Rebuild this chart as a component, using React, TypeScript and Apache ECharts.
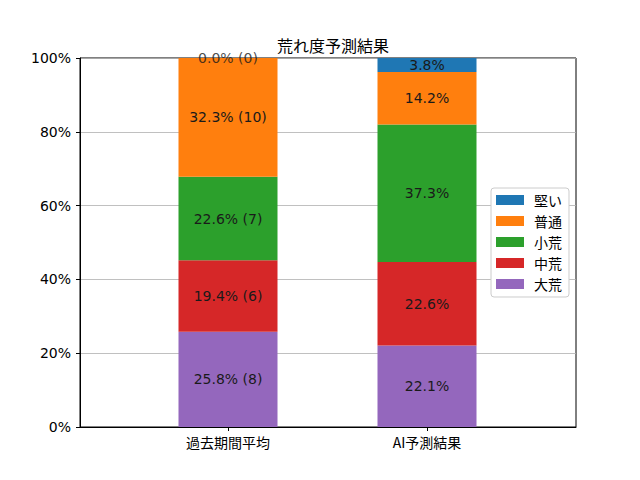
import React, { useEffect, useRef } from "react";
import * as echarts from "echarts";

const categories = ["過去期間平均", "AI予測結果"];
const seriesNames = ["大荒", "中荒", "小荒", "普通", "堅い"];
const legendOrder = ["堅い", "普通", "小荒", "中荒", "大荒"];
const colors = ["#9467bd", "#d62728", "#2ca02c", "#ff7f0e", "#1f77b4"];
const pastPct = [25.8, 19.4, 22.6, 32.3, 0.0];
const pastCount = [8, 6, 7, 10, 0];
const aiPct = [22.1, 22.6, 37.3, 14.2, 3.8];
const yTicks = [0, 20, 40, 60, 80, 100];

const FONT = "DejaVu Sans";
const CJK = "Noto Sans CJK JP";

const labelText = (catIdx: number, segIdx: number, v: number) =>
  catIdx === 0 ? `${v.toFixed(1)}% (${pastCount[segIdx]})` : `${v.toFixed(1)}%`;

export default function App() {
  const ref = useRef<HTMLDivElement>(null);
  useEffect(() => {
    if (!ref.current) return;
    const chart = echarts.init(ref.current, null, { renderer: "svg" });
    const byCat = [pastPct, aiPct];
    const labelStyle = {
      color: "#1a1a1a",
      fontFamily: FONT,
      fontSize: 14,
    };
    const series: any[] = seriesNames.map((name, i) => ({
      name,
      type: "bar",
      stack: "total",
      barWidth: 99,
      xAxisIndex: 1,
      yAxisIndex: 1,
      z: 3,
      itemStyle: { color: colors[i] },
      label: {
        show: true,
        position: "inside",
        ...labelStyle,
        formatter: (p: any) => labelText(p.dataIndex, i, p.value as number),
      },
      data: [pastPct[i], aiPct[i]],
    }));
    // labels for zero-height segments, placed at their stack position
    const zeroPts: any[] = [];
    byCat.forEach((vals, c) => {
      let cum = 0;
      vals.forEach((v, s) => {
        if (v === 0) zeroPts.push({ value: [c, Math.min(cum, 100)], seg: s, cat: c });
        cum += v;
      });
    });
    series.push({
      type: "scatter",
      xAxisIndex: 1,
      yAxisIndex: 1,
      symbolSize: 0,
      silent: true,
      z: 5,
      label: {
        show: true,
        position: "inside",
        ...labelStyle,
        formatter: (p: any) => labelText(p.data.cat, p.data.seg, 0),
      },
      data: zeroPts,
    });
    chart.setOption({
      animation: false,
      backgroundColor: "#fff",
      title: {
        text: "荒れ度予測結果",
        left: 328,
        top: 32,
        textAlign: "center",
        textStyle: { fontFamily: CJK, fontSize: 16, fontWeight: "normal", color: "#000" },
      },
      legend: {
        data: legendOrder,
        orient: "vertical",
        left: 491,
        top: 188,
        itemWidth: 28,
        itemHeight: 10,
        itemGap: 7,
        padding: [5, 7, 6, 5],
        backgroundColor: "#fff",
        borderColor: "#cccccc",
        borderWidth: 1,
        borderRadius: 3,
        icon: "rect",
        textStyle: { fontFamily: CJK, fontSize: 14, color: "#000", padding: [0, 0, 0, 5] },
      },
      grid: [
        {
          left: 80,
          right: 64,
          top: 58,
          bottom: 53,
          show: true,
          borderColor: "#000",
          borderWidth: 1,
          backgroundColor: "transparent",
        },
        {
          left: 128.5,
          right: 113.5,
          top: 58,
          bottom: 53,
        },
      ],
      xAxis: [
        {
          gridIndex: 0,
          type: "value",
          min: 0,
          max: 1,
          axisLine: { show: true, lineStyle: { color: "#000", width: 1 } },
          splitLine: { show: false },
          axisTick: { show: false },
          axisLabel: { show: false },
        },
        {
          gridIndex: 1,
          type: "category",
          data: categories,
          axisLine: { show: false },
          axisTick: {
            show: true,
            alignWithLabel: true,
            length: 4,
            lineStyle: { color: "#000" },
          },
          axisLabel: {
            fontFamily: CJK,
            fontSize: 14,
            color: "#000",
            margin: 8,
          },
        },
      ],
      yAxis: [
        {
          gridIndex: 0,
          type: "value",
          min: 0,
          max: 100,
          interval: 20,
          axisLine: { show: true, onZero: false, lineStyle: { color: "#000", width: 1 } },
          axisTick: { show: true, length: 4, lineStyle: { color: "#000" } },
          splitLine: { show: true, lineStyle: { color: "#b0b0b0", width: 0.8 } },
          axisLabel: {
            formatter: (v: number) => (yTicks.includes(v) ? `${v}%` : ""),
            fontFamily: FONT,
            fontSize: 14,
            color: "#000",
            margin: 9,
          },
        },
        {
          gridIndex: 1,
          type: "value",
          min: 0,
          max: 100,
          show: false,
          splitLine: { show: false },
        },
      ],
      series,
    });
    return () => chart.dispose();
  }, []);
  return (
    <div
      ref={ref}
      style={{ position: "fixed", left: 0, top: 0, width: 640, height: 480 }}
    />
  );
}
